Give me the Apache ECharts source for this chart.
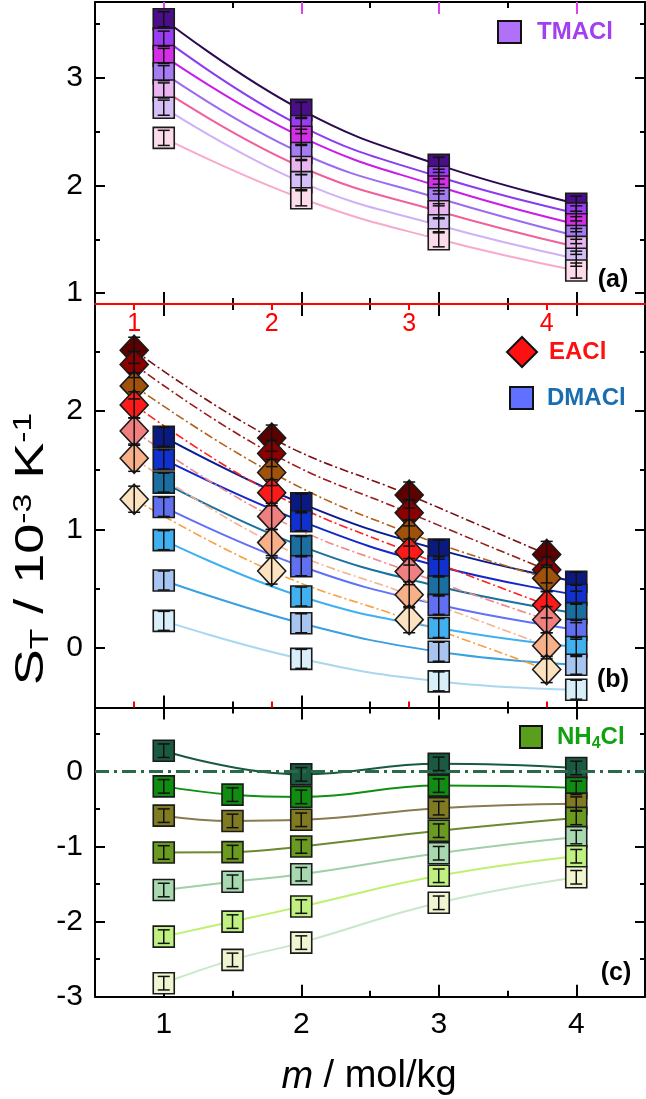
<!DOCTYPE html>
<html><head><meta charset="utf-8">
<script src="https://cdn.jsdelivr.net/npm/echarts@6/dist/echarts.min.js"></script>
<style>html,body{margin:0;padding:0;background:#fff}#c{width:646px;height:1099px}</style>
</head><body><div id="c"></div>
<script>
const FONT = 'Liberation Sans, Arial, sans-serif';

// ---- molality positions ----
const M_TMA = [1, 2, 3, 4];
const M_DMA = [1, 2, 3, 4];
const M_EA = [1, 2, 3, 4];          // plotted on the red (offset) axis
const M_NH = [1, 1.5, 2, 3, 4];

// ---- tick values ----
const xMajor = [1, 2, 3, 4];
const xMinor = [1.5, 2.5, 3.5];
const yMajorA = [1, 2, 3], yMinorA = [1.5, 2.5, 3.5];
const yMajorB = [0, 1, 2], yMinorB = [0.5, 1.5, 2.5];
const yMajorC = [-3, -2, -1, 0], yMinorC = [-2.5, -1.5, -0.5, 0.5];

// ---- (a) TMACl ----
const tma1 = [3.54, 2.70, 2.19, 1.83];
const tma2 = [3.36, 2.55, 2.08, 1.74];
const tma3 = [3.20, 2.45, 1.99, 1.64];
const tma4 = [3.04, 2.30, 1.88, 1.53];
const tma5 = [2.88, 2.17, 1.76, 1.43];
const tma6 = [2.72, 2.03, 1.63, 1.32];
const tma7 = [2.44, 1.88, 1.50, 1.21];
const tmaErr = [0.07, 0.07, 0.07, 0.07, 0.07, 0.07, 0.07];

// ---- (b) EACl ----
const ea1 = [2.51, 1.77, 1.29, 0.79];
const ea2 = [2.39, 1.64, 1.14, 0.66];
const ea3 = [2.21, 1.48, 0.97, 0.59];
const ea4 = [2.05, 1.31, 0.81, 0.365];
const ea5 = [1.83, 1.11, 0.645, 0.24];
const ea6 = [1.60, 0.89, 0.45, 0.02];
const ea7 = [1.255, 0.65, 0.24, -0.18];
const eaErr = [0.11, 0.11, 0.11, 0.11, 0.11, 0.11, 0.11];

// ---- (b) DMACl ----
const dm1 = [1.78, 1.22, 0.83, 0.56];
const dm2 = [1.59, 1.07, 0.69, 0.45];
const dm3 = [1.395, 0.86, 0.52, 0.295];
const dm4 = [1.19, 0.69, 0.365, 0.155];
const dm5 = [0.91, 0.435, 0.17, 0.01];
const dm6 = [0.57, 0.21, -0.03, -0.14];
const dm7 = [0.23, -0.09, -0.28, -0.35];
const dmErr = [0.08, 0.08, 0.08, 0.08, 0.08, 0.08, 0.08];

// ---- (c) NH4Cl ----
const nh1 = [0.275, null, -0.04, 0.10, 0.045];
const nh2 = [-0.20, -0.31, -0.34, -0.19, -0.22];
const nh3 = [-0.59, -0.66, -0.645, -0.49, -0.43];
const nh4 = [-1.08, -1.075, -1.00, -0.79, -0.62];
const nh5 = [-1.58, -1.47, -1.37, -1.09, -0.875];
const nh6 = [-2.20, -2.00, -1.80, -1.39, -1.13];
const nh7 = [-2.82, -2.51, -2.28, -1.75, -1.41];
const nhErr = [0.09, 0.09, 0.09, 0.09, 0.09, 0.09, 0.09];

// ---- colours ----
const tmaFill = ['#4a0e8a', '#9b3cf5', '#d42ee8', '#a57cf2', '#eab4f0', '#d6bef6', '#fcdcea'];
const tmaLine = ['#2c0a50', '#8a3cf0', '#c81ee8', '#9a6cf0', '#f0609a', '#d0b0f8', '#f8aacc'];
const eaFill = ['#5c0000', '#8b0000', '#a0520a', '#ff1a1a', '#f08080', '#f8b088', '#fde2c0'];
const eaLine = ['#7a1010', '#9b1a1a', '#b0601a', '#ff2020', '#f08888', '#f8b090', '#f8a040'];
const dmFill = ['#0a1a80', '#1030d0', '#1a6ea0', '#6070f0', '#40b0f0', '#a8c4f0', '#d8eef8'];
const dmLine = ['#0a1a90', '#1428c8', '#1a70a0', '#6070f8', '#40b0f0', '#3aa0e0', '#a8d8f0'];
const nhFill = ['#1a5a40', '#108c10', '#807a20', '#6a9a20', '#a8d8b0', '#c0f080', '#f0f4d0'];
const nhLine = ['#1a5a40', '#109010', '#8a7a50', '#6a8a30', '#a0d0a8', '#c0f070', '#c8e8c8'];

// ---- layout ----
const grids = [
  {left: 95, top: 2, width: 550, height: 302},
  {left: 95, top: 304, width: 550, height: 403.5},
  {left: 95, top: 707.5, width: 550, height: 289.2}
];

function xAx(grid, pos, min, max, ticks, len, color, opts) {
  opts = opts || {};
  return {
    type: 'value', gridIndex: grid, position: pos, min: min, max: max,
    splitLine: {show: false},
    axisLine: {show: !!opts.line, onZero: false, lineStyle: {color: opts.lineColor || '#000', width: 2}},
    axisTick: {show: true, inside: true, length: len, customValues: ticks, lineStyle: {color: color, width: 2}},
    axisLabel: opts.label ? Object.assign({customValues: ticks, fontFamily: FONT}, opts.label) : {show: false},
    z: opts.z || 3
  };
}
function yAx(grid, pos, min, max, ticks, len, opts) {
  opts = opts || {};
  return {
    type: 'value', gridIndex: grid, position: pos, min: min, max: max,
    splitLine: {show: false},
    axisLine: {show: !!opts.line, onZero: false, lineStyle: {color: '#000', width: 2}},
    axisTick: {show: true, inside: true, length: len, customValues: ticks, lineStyle: {color: '#000', width: 2}},
    axisLabel: opts.label ? {customValues: ticks, fontFamily: FONT, fontSize: 30, color: '#000', margin: 12} : {show: false}
  };
}

const xAxes = [
  // grid 0 (a)
  xAx(0, 'bottom', 0.5, 4.5, xMajor, 12, '#000', {line: true}),       // 0
  xAx(0, 'bottom', 0.5, 4.5, xMinor, 6, '#000'),                      // 1
  xAx(0, 'top', 0.5, 4.5, xMajor, 12, '#e040f0', {line: true}),       // 2
  xAx(0, 'top', 0.5, 4.5, xMinor, 6, '#000'),                         // 3
  // grid 1 (b)
  xAx(1, 'bottom', 0.5, 4.5, xMajor, 12, '#000', {line: true}),       // 4
  xAx(1, 'bottom', 0.5, 4.5, xMinor, 6, '#000'),                      // 5
  xAx(1, 'top', 0.5, 4.5, xMajor, 12, '#000'),                        // 6
  xAx(1, 'top', 0.5, 4.5, xMinor, 6, '#000'),                         // 7
  xAx(1, 'top', 0.715, 4.715, xMajor, 6, '#ff0000', {line: true, lineColor: '#ff0000', z: 6,
    label: {inside: true, color: '#ff0000', fontSize: 25, margin: 8}}),   // 8 red axis for EACl
  xAx(1, 'bottom', 0.715, 4.715, xMajor, 6, '#ff0000'),               // 9
  // grid 2 (c)
  xAx(2, 'bottom', 0.5, 4.5, xMajor, 12, '#000', {line: true,
    label: {color: '#000', fontSize: 30, margin: 13}}),              // 10
  xAx(2, 'bottom', 0.5, 4.5, xMinor, 6, '#000'),                      // 11
  xAx(2, 'top', 0.5, 4.5, xMajor, 12, '#000', {line: true}),          // 12
  xAx(2, 'top', 0.5, 4.5, xMinor, 6, '#000')                          // 13
];
const yAxes = [
  yAx(0, 'left', 0.9, 3.7, yMajorA, 10, {line: true, label: true}),  // 0
  yAx(0, 'left', 0.9, 3.7, yMinorA, 5),                               // 1
  yAx(0, 'right', 0.9, 3.7, yMajorA, 10, {line: true}),               // 2
  yAx(0, 'right', 0.9, 3.7, yMinorA, 5),                              // 3
  yAx(1, 'left', -0.5, 2.9, yMajorB, 10, {line: true, label: true}), // 4
  yAx(1, 'left', -0.5, 2.9, yMinorB, 5),                              // 5
  yAx(1, 'right', -0.5, 2.9, yMajorB, 10, {line: true}),              // 6
  yAx(1, 'right', -0.5, 2.9, yMinorB, 5),                             // 7
  yAx(2, 'left', -3, 0.85, yMajorC, 10, {line: true, label: true}),  // 8
  yAx(2, 'left', -3, 0.85, yMinorC, 5),                               // 9
  yAx(2, 'right', -3, 0.85, yMajorC, 10, {line: true}),               // 10
  yAx(2, 'right', -3, 0.85, yMinorC, 5)                               // 11
];

function pairs(xs, ys) {
  const out = [];
  xs.forEach((x, i) => { if (ys[i] !== null && ys[i] !== undefined) out.push([x, ys[i]]); });
  return out;
}
function errSeries(xi, yi, pts, err) {
  return {
    type: 'custom', xAxisIndex: xi, yAxisIndex: yi, z: 6, silent: true,
    data: pts.map(p => [p[0], p[1], err]),
    renderItem: function (params, api) {
      const x = api.value(0), y = api.value(1), e = api.value(2);
      const c = api.coord([x, y]);
      const hi = api.coord([x, y + e]), lo = api.coord([x, y - e]);
      const w = 6;
      const st = {stroke: '#111', lineWidth: 1.5};
      return {type: 'group', children: [
        {type: 'line', shape: {x1: c[0], y1: hi[1], x2: c[0], y2: lo[1]}, style: st},
        {type: 'line', shape: {x1: c[0] - w, y1: hi[1], x2: c[0] + w, y2: hi[1]}, style: st},
        {type: 'line', shape: {x1: c[0] - w, y1: lo[1], x2: c[0] + w, y2: lo[1]}, style: st}
      ]};
    }
  };
}

const series = [];
function addGroup(xs, sets, errs, fills, lines, xi, yi, symbol, size, dash) {
  sets.forEach((ys, k) => {
    const pts = pairs(xs, ys);
    series.push({
      type: 'line', xAxisIndex: xi, yAxisIndex: yi, data: pts, smooth: 0.45, symbol: 'none', z: 2,
      lineStyle: {color: lines[k], width: dash ? 1.6 : 2, type: dash ? [9, 3, 2, 3] : 'solid'},
      silent: true
    });
  });
  sets.forEach((ys, k) => {
    const pts = pairs(xs, ys);
    series.push({
      type: 'scatter', xAxisIndex: xi, yAxisIndex: yi, data: pts, symbol: symbol, symbolSize: size, z: 4,
      itemStyle: {color: fills[k], borderColor: '#1a1a1a', borderWidth: 1.6, opacity: 1}, silent: true
    });
    series.push(errSeries(xi, yi, pts, errs[k]));
  });
}

addGroup(M_TMA, [tma1, tma2, tma3, tma4, tma5, tma6, tma7], tmaErr, tmaFill, tmaLine, 0, 0, 'rect', 21, false);
addGroup(M_DMA, [dm1, dm2, dm3, dm4, dm5, dm6, dm7], dmErr, dmFill, dmLine, 4, 4, 'rect', 21, false);
addGroup(M_EA, [ea1, ea2, ea3, ea4, ea5, ea6, ea7], eaErr, eaFill, eaLine, 8, 4, 'diamond', [28, 30], true);
addGroup(M_NH, [nh1, nh2, nh3, nh4, nh5, nh6, nh7], nhErr, nhFill, nhLine, 10, 8, 'rect', 21, false);

// zero reference line in (c)
series.push({
  type: 'line', xAxisIndex: 10, yAxisIndex: 8, data: [], z: 3, silent: true,
  markLine: {silent: true, symbol: 'none', label: {show: false},
    lineStyle: {color: '#2a6a4a', width: 3, type: [14, 5, 3, 5]},
    data: [{yAxis: 0}]}
});

const graphic = [
  // legends
  {type: 'rect', shape: {x: 498, y: 21, width: 23, height: 22}, style: {fill: '#b070f8', stroke: '#111', lineWidth: 2}, z: 10},
  {type: 'text', x: 537, y: 32, style: {text: 'TMACl', fill: '#a040f0', font: 'bold 24px ' + FONT, verticalAlign: 'middle'}, z: 10},
  {type: 'polygon', shape: {points: [[522, 337], [537, 352], [522, 367], [507, 352]]}, style: {fill: '#ff1010', stroke: '#111', lineWidth: 2}, z: 10},
  {type: 'text', x: 549, y: 352, style: {text: 'EACl', fill: '#ff1010', font: 'bold 24px ' + FONT, verticalAlign: 'middle'}, z: 10},
  {type: 'rect', shape: {x: 510, y: 387, width: 23, height: 22}, style: {fill: '#6070ff', stroke: '#111', lineWidth: 2}, z: 10},
  {type: 'text', x: 547, y: 398, style: {text: 'DMACl', fill: '#1a6eb0', font: 'bold 24px ' + FONT, verticalAlign: 'middle'}, z: 10},
  {type: 'rect', shape: {x: 520, y: 726, width: 22, height: 22}, style: {fill: '#5a9e1e', stroke: '#111', lineWidth: 2}, z: 10},
  {type: 'text', x: 557, y: 737, style: {
    text: '{n|NH}{s|4}{n|Cl}', verticalAlign: 'middle',
    rich: {n: {fill: '#10a010', font: 'bold 24px ' + FONT}, s: {fill: '#10a010', font: 'bold 16px ' + FONT, padding: [14, 0, 0, 0]}}
  }, z: 10},
  // panel tags
  {type: 'text', x: 613, y: 280, style: {text: '(a)', fill: '#000', font: 'bold 25px ' + FONT, align: 'center', verticalAlign: 'middle'}, z: 10},
  {type: 'text', x: 613, y: 680, style: {text: '(b)', fill: '#000', font: 'bold 25px ' + FONT, align: 'center', verticalAlign: 'middle'}, z: 10},
  {type: 'text', x: 616, y: 973, style: {text: '(c)', fill: '#000', font: 'bold 25px ' + FONT, align: 'center', verticalAlign: 'middle'}, z: 10},
  // axis titles
  {type: 'text', x: 369, y: 1077, style: {
    text: '{i|m} / mol/kg', align: 'center', verticalAlign: 'middle', fill: '#000', font: '38px ' + FONT,
    rich: {i: {font: 'italic 38px ' + FONT, fill: '#000'}}
  }, z: 10},
  {type: 'text', x: 32, y: 549, rotation: Math.PI / 2, scaleX: 1.35, style: {
    text: '{n|S}{s|T}{n| / 10}{p|-3}{n| K}{p|-1}', align: 'center', verticalAlign: 'middle',
    rich: {
      n: {font: '40px ' + FONT, fill: '#000'},
      s: {font: '25px ' + FONT, fill: '#000', padding: [18, 0, 0, 0]},
      p: {font: '25px ' + FONT, fill: '#000', padding: [0, 0, 16, 0]}
    }
  }, z: 10}
];

const chart = echarts.init(document.getElementById('c'), null, {renderer: 'canvas'});
chart.setOption({
  animation: false,
  backgroundColor: '#fff',
  grid: grids,
  xAxis: xAxes,
  yAxis: yAxes,
  series: series,
  graphic: graphic
});
</script>
</body></html>
